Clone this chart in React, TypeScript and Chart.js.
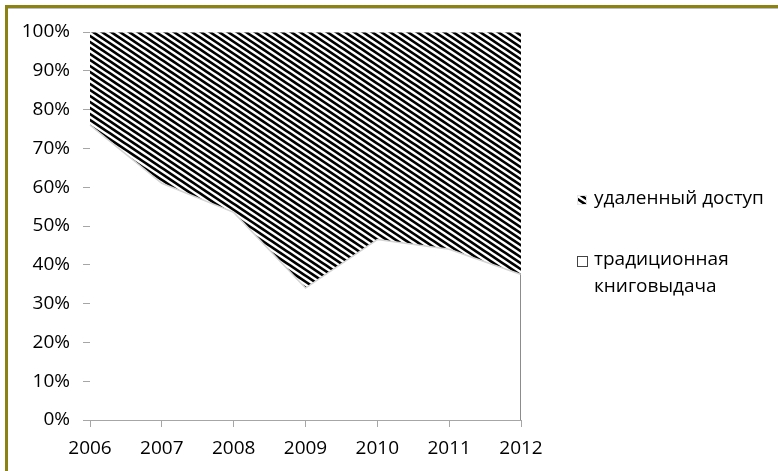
import React, { useEffect, useRef } from "react";
import { Chart, registerables } from "chart.js";
Chart.register(...registerables);

const years = ["2006", "2007", "2008", "2009", "2010", "2011", "2012"];
const traditional = [76, 61, 53.5, 34, 46.5, 44, 37.5];
const remote = [24, 39, 46.5, 66, 53.5, 56, 62.5];
const seriesNames = ["удаленный доступ", "традиционная книговыдача"];
const legendLines = [["удаленный доступ"], ["традиционная", "книговыдача"]];

const FONT = "'Open Sans', 'Noto Sans', sans-serif";
const FONT_SIZE = 19;

function makeHatch(): CanvasPattern | string {
  const W = 18;
  const H = 12;
  const P = 9;
  const c = document.createElement("canvas");
  c.width = W;
  c.height = H;
  const ctx = c.getContext("2d");
  if (!ctx) return "#555";
  ctx.fillStyle = "#fff";
  ctx.fillRect(0, 0, W, H);
  ctx.strokeStyle = "#000";
  ctx.lineWidth = 2.7;
  for (let x0 = -6 * P; x0 <= 4 * P; x0 += P) {
    ctx.beginPath();
    ctx.moveTo(x0 - W, -H);
    ctx.lineTo(x0 + 2 * W, 2 * H);
    ctx.stroke();
  }
  return ctx.createPattern(c, "repeat") || "#555";
}

export default function App() {
  const ref = useRef<HTMLCanvasElement | null>(null);

  useEffect(() => {
    if (!ref.current) return;
    const hatch = makeHatch();

    const decor = {
      id: "decor",
      beforeDraw(chart: any) {
        const ctx = chart.ctx;
        ctx.save();
        ctx.fillStyle = "#fff";
        ctx.fillRect(0, 0, chart.width, chart.height);
        // frame (top + left)
        ctx.fillStyle = "#8c8214";
        ctx.fillRect(5, 5, chart.width - 5, 3);
        ctx.fillRect(5, 5, 3, chart.height - 5);
        ctx.fillStyle = "#b8bcc8";
        ctx.fillRect(8, 8, chart.width - 8, 1);
        ctx.restore();
      },
      afterDraw(chart: any) {
        const ctx = chart.ctx;
        const ca = chart.chartArea;
        const y = chart.scales.y;
        ctx.save();
        // right edge line of the lower area
        ctx.strokeStyle = "#8c8c8c";
        ctx.lineWidth = 1;
        const xr = Math.round(ca.right) - 0.5;
        ctx.beginPath();
        ctx.moveTo(xr, y.getPixelForValue(0));
        ctx.lineTo(xr, y.getPixelForValue(traditional[traditional.length - 1]));
        ctx.stroke();

        // legend
        ctx.font = `${FONT_SIZE}px ${FONT}`;
        ctx.textBaseline = "middle";
        ctx.textAlign = "left";
        const lx = 577;
        const tx = 594;
        // item 1: hatched
        ctx.fillStyle = "#e6e6e6";
        ctx.fillRect(lx, 195, 10, 10);
        ctx.fillStyle = hatch as any;
        ctx.fillRect(lx + 1, 196, 8, 8);
        ctx.fillStyle = "#000";
        legendLines[0].forEach((t, i) => ctx.fillText(t, tx, 199 + i * 27));
        // item 2: white
        ctx.fillStyle = "#fff";
        ctx.fillRect(lx, 256, 10, 10);
        ctx.strokeStyle = "#444";
        ctx.strokeRect(lx + 0.5, 256.5, 10, 10);
        ctx.fillStyle = "#000";
        legendLines[1].forEach((t, i) => ctx.fillText(t, tx, 260 + i * 27));
        ctx.restore();
      },
    };

    const chart = new Chart(ref.current, {
      type: "line",
      data: {
        labels: years,
        datasets: [
          {
            label: seriesNames[1],
            data: traditional,
            fill: "origin",
            backgroundColor: "#ffffff",
            borderColor: "#d4d4d4",
            borderWidth: 1.5,
            pointRadius: 0,
            tension: 0,
          },
          {
            label: seriesNames[0],
            data: remote,
            fill: "-1",
            backgroundColor: hatch as any,
            borderColor: "#e2e2e2",
            borderWidth: 1,
            pointRadius: 0,
            tension: 0,
          },
        ],
      },
      options: {
        responsive: false,
        animation: false,
        devicePixelRatio: 1,
        layout: { padding: { left: 8, top: 32, right: 257, bottom: 0 } },
        plugins: {
          legend: { display: false },
          tooltip: { enabled: false },
        },
        scales: {
          x: {
            type: "category",
            offset: false,
            afterFit: (s: any) => {
              s.height = 51;
            },
            grid: {
              drawOnChartArea: false,
              drawTicks: true,
              tickLength: 7,
              color: "#a6a6a6",
              offset: false,
            },
            border: { display: true, color: "#a6a6a6" },
            ticks: {
              color: "#000",
              font: { family: FONT, size: FONT_SIZE },
              padding: 10,
              maxRotation: 0,
              autoSkip: false,
            },
          },
          y: {
            stacked: true,
            min: 0,
            max: 100,
            afterFit: (s: any) => {
              s.width = 82;
            },
            grid: {
              drawOnChartArea: false,
              drawTicks: true,
              tickLength: 7,
              color: "#a6a6a6",
            },
            border: { display: true, color: "#a6a6a6" },
            ticks: {
              stepSize: 10,
              color: "#000",
              font: { family: FONT, size: FONT_SIZE },
              padding: 13,
              callback: (v: any) => v + "%",
            },
          },
        },
      },
      plugins: [decor],
    });
    return () => chart.destroy();
  }, []);

  return (
    <div style={{ position: "fixed", left: 0, top: 0, width: 778, height: 471, background: "#fff" }}>
      <canvas ref={ref} width={778} height={471} style={{ display: "block", width: 778, height: 471 }} />
    </div>
  );
}
